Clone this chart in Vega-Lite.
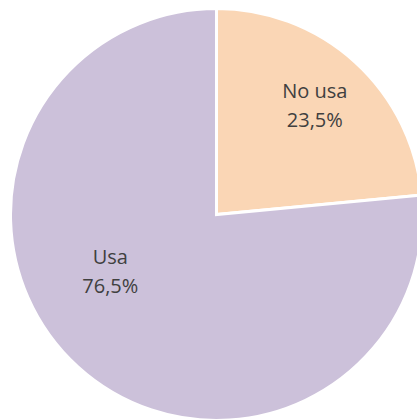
{
  "$schema": "https://vega.github.io/schema/vega-lite/v6.json",
  "width": 433,
  "height": 429,
  "autosize": {"type": "none"},
  "padding": 0,
  "background": "white",
  "view": {"stroke": null},
  "data": {
    "values": [
      {"cat": "No usa", "value": 23.5, "label": "No usa\n23,5%"},
      {"cat": "Usa", "value": 76.5, "label": "Usa\n76,5%"}
    ]
  },
  "encoding": {
    "theta": {"field": "value", "type": "quantitative", "stack": true}
  },
  "layer": [
    {
      "mark": {"type": "arc", "outerRadius": 206, "stroke": "white", "strokeWidth": 3},
      "encoding": {
        "color": {
          "field": "cat",
          "type": "nominal",
          "scale": {"domain": ["No usa", "Usa"], "range": ["#FAD6B5", "#CCC1DA"]},
          "legend": null
        }
      }
    },
    {
      "mark": {
        "type": "text",
        "font": "Open Sans",
        "fontSize": 20,
        "fill": "#404040",
        "lineBreak": "\n",
        "lineHeight": 29,
        "align": "center",
        "baseline": "middle",
        "dy": -14.5,
        "radius": {"expr": "datum.cat === 'Usa' ? 121 : 146"},
        "thetaOffset": {"expr": "datum.cat === 'Usa' ? 0.333 : 0"}
      },
      "encoding": {
        "text": {"field": "label", "type": "nominal"},
        "detail": {"field": "cat", "type": "nominal"}
      }
    }
  ]
}
